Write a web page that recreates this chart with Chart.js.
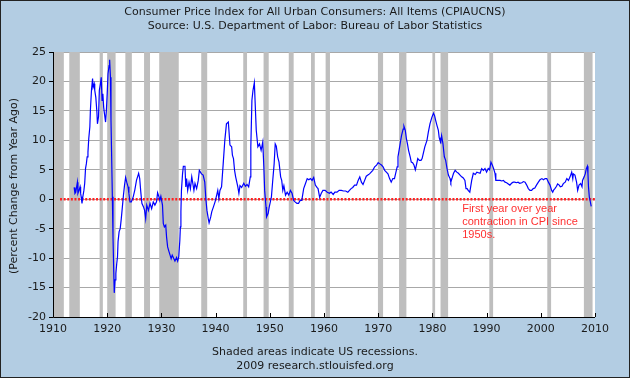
<!DOCTYPE html>
<html>
<head>
<meta charset="utf-8">
<title>CPI - Percent Change from Year Ago</title>
<script src="https://cdn.jsdelivr.net/npm/chart.js@4.4.1/dist/chart.umd.min.js"></script>
<style>
    html, body { margin: 0; padding: 0; background: #b3cde3; }
    #wrap { width: 630px; height: 378px; }
</style>
</head>
<body>
<div id="wrap"><canvas id="cpiChart" width="630" height="378"></canvas></div>
<script>
// ========================================
// DATA
// ========================================
const years = [
    1913.9, 1914.05, 1914.2, 1914.5, 1914.6, 1914.8, 1915.0, 1915.1, 1915.2, 1915.35,
    1915.5, 1915.7, 1915.85, 1916.0, 1916.15, 1916.3, 1916.45, 1916.6, 1916.8, 1916.9,
    1917.1, 1917.3, 1917.4, 1917.6, 1917.7, 1917.9, 1918.1, 1918.2, 1918.4, 1918.55,
    1918.75, 1918.9, 1919.05, 1919.2, 1919.35, 1919.5, 1919.7, 1919.85, 1920.0, 1920.15,
    1920.35, 1920.45, 1920.6, 1920.7, 1920.8, 1920.95, 1921.07, 1921.2, 1921.3, 1921.45,
    1921.6, 1921.75, 1921.9, 1922.0, 1922.2, 1922.4, 1922.6, 1922.8, 1923.0, 1923.2,
    1923.4, 1923.6, 1923.85, 1924.0, 1924.2, 1924.45, 1924.8, 1925.1, 1925.4, 1925.6,
    1925.8, 1926.0, 1926.2, 1926.4, 1926.7, 1926.9, 1927.1, 1927.3, 1927.6, 1927.9,
    1928.2, 1928.5, 1928.8, 1929.1, 1929.3, 1929.55, 1929.7, 1929.9, 1930.2, 1930.35,
    1930.55, 1930.8, 1930.95, 1931.15, 1931.4, 1931.6, 1931.8, 1932.0, 1932.3, 1932.5,
    1932.8, 1933.0, 1933.2, 1933.4, 1933.5, 1933.6, 1933.7, 1933.9, 1934.05, 1934.35,
    1934.5, 1934.65, 1934.85, 1935.1, 1935.35, 1935.6, 1935.8, 1936.0, 1936.2, 1936.5,
    1936.8, 1937.0, 1937.2, 1937.4, 1937.7, 1938.0, 1938.2, 1938.4, 1938.65, 1938.8,
    1939.1, 1939.3, 1939.6, 1939.9, 1940.2, 1940.4, 1940.6, 1940.8, 1941.1, 1941.4,
    1941.7, 1942.0, 1942.35, 1942.65, 1942.96, 1943.1, 1943.3, 1943.5, 1943.7, 1944.1,
    1944.3, 1944.5, 1944.8, 1945.2, 1945.5, 1945.8, 1946.1, 1946.4, 1946.5, 1946.7,
    1946.9, 1947.15, 1947.3, 1947.5, 1947.8, 1948.1, 1948.4, 1948.7, 1948.9, 1949.05,
    1949.3, 1949.4, 1949.7, 1949.9, 1950.3, 1950.5, 1950.8, 1951.0, 1951.2, 1951.45,
    1951.7, 1952.0, 1952.2, 1952.4, 1952.6, 1952.9, 1953.2, 1953.5, 1953.8, 1954.1,
    1954.4, 1954.7, 1955.0, 1955.3, 1955.6, 1955.9, 1956.25, 1956.6, 1956.9, 1957.2,
    1957.5, 1957.8, 1958.1, 1958.4, 1958.7, 1958.9, 1959.2, 1959.5, 1959.8, 1960.2,
    1960.6, 1961.0, 1961.3, 1961.7, 1962.0, 1962.4, 1962.8, 1963.2, 1963.6, 1964.0,
    1964.4, 1964.7, 1965.0, 1965.3, 1965.65, 1966.0, 1966.3, 1966.6, 1966.9, 1967.2,
    1967.5, 1967.8, 1968.1, 1968.4, 1968.7, 1969.0, 1969.35, 1969.7, 1970.0, 1970.3,
    1970.6, 1970.9, 1971.2, 1971.5, 1971.8, 1972.1, 1972.4, 1972.7, 1973.0, 1973.2,
    1973.5, 1973.65, 1973.85, 1974.1, 1974.3, 1974.6, 1974.75, 1975.0, 1975.2, 1975.4,
    1975.6, 1975.9, 1976.1, 1976.35, 1976.6, 1976.85, 1977.1, 1977.3, 1977.6, 1977.9,
    1978.1, 1978.3, 1978.6, 1979.0, 1979.25, 1979.55, 1979.9, 1980.2, 1980.4, 1980.6,
    1980.85, 1981.1, 1981.25, 1981.4, 1981.55, 1981.7, 1981.95, 1982.2, 1982.45, 1982.7,
    1982.95, 1983.25, 1983.4, 1983.7, 1983.9, 1984.2, 1984.5, 1984.8, 1985.1, 1985.4,
    1985.7, 1986.0, 1986.2, 1986.4, 1986.6, 1986.9, 1987.25, 1987.55, 1987.9, 1988.2,
    1988.5, 1988.8, 1989.1, 1989.4, 1989.7, 1990.0, 1990.3, 1990.55, 1990.8, 1991.05,
    1991.3, 1991.55, 1991.7, 1992.0, 1992.5, 1992.8, 1993.1, 1993.4, 1993.7, 1994.0,
    1994.3, 1994.6, 1994.9, 1995.2, 1995.5, 1995.8, 1996.1, 1996.5, 1996.8, 1997.1,
    1997.4, 1997.7, 1998.0, 1998.3, 1998.6, 1998.9, 1999.2, 1999.55, 1999.85, 2000.2,
    2000.5, 2000.8, 2001.1, 2001.4, 2001.7, 2002.0, 2002.2, 2002.4, 2002.6, 2002.9,
    2003.1, 2003.4, 2003.6, 2003.9, 2004.15, 2004.5, 2004.8, 2005.1, 2005.4, 2005.7,
    2005.9, 2006.0, 2006.3, 2006.6, 2006.8, 2007.05, 2007.35, 2007.6, 2007.7, 2008.0,
    2008.2, 2008.4, 2008.6, 2008.7, 2008.8, 2008.95, 2009.15, 2009.3
];

const cpiChange = [
    2.0, 1.0, 1.2, 2.9, 1.0, 1.5, 2.1, 1.0, 0.4, -0.7,
    0.4, 1.5, 2.7, 5.2, 6.0, 7.2, 8.0, 10.3, 12.3, 15.1,
    18.5, 20.5, 19.0, 19.6, 18.5, 17.3, 14.8, 12.8, 14.0, 18.5,
    19.6, 20.7, 16.8, 17.9, 15.6, 14.5, 13.1, 15.1, 17.9, 21.3,
    22.7, 23.7, 20.7, 13.4, 8.3, 0.4, -6.4, -12.0, -15.9, -13.7,
    -12.6, -11.0, -9.8, -7.2, -5.5, -5.0, -3.3, -1.3, 0.7, 2.4,
    3.7, 2.9, 2.1, 1.0, -0.45, -0.45, 0.4, 1.6, 3.2, 3.8,
    4.4, 3.5, 1.2, -0.7, -1.3, -1.9, -3.3, -1.0, -1.9, -0.7,
    -1.6, -0.45, -1.0, -0.45, 1.1, 0.4, -0.2, 0.5, -1.0, -4.1,
    -4.7, -4.4, -6.4, -8.1, -8.9, -9.5, -10.1, -9.5, -10.1, -10.5,
    -9.9, -10.5, -9.8, -7.0, -4.7, -2.1, 1.5, 4.3, 5.6, 5.6,
    2.1, 3.5, 1.5, 2.9, 1.8, 3.8, 2.7, 1.5, 2.7, 1.8,
    3.2, 4.9, 4.6, 4.3, 4.1, 2.9, 0.1, -1.9, -3.3, -4.0,
    -3.0, -2.1, -1.3, -0.45, 0.7, 1.5, 0.1, 1.5, 2.1, 6.0,
    10.0, 12.8, 13.1, 9.2, 8.9, 7.5, 6.9, 4.9, 3.8, 2.1,
    1.0, 2.3, 2.0, 2.7, 2.2, 2.5, 2.1, 3.8, 8.9, 16.8,
    18.5, 19.8, 16.3, 11.7, 8.9, 9.4, 8.3, 9.7, 5.5, 1.5,
    -1.3, -3.0, -2.4, -1.3, 0.4, 2.7, 6.0, 9.4, 9.0, 7.2,
    6.3, 3.8, 3.2, 1.5, 2.3, 0.7, 1.2, 0.7, 1.5, 1.0,
    -0.2, -0.5, -0.7, -0.7, -0.2, -0.2, 1.8, 2.7, 3.5, 3.3,
    3.5, 3.2, 3.7, 2.4, 2.0, 1.8, 0.3, 1.0, 1.5, 1.5,
    1.2, 1.0, 1.2, 0.8, 1.2, 1.2, 1.5, 1.5, 1.4, 1.4,
    1.2, 1.5, 1.8, 2.0, 2.4, 2.4, 3.2, 3.8, 2.9, 2.5,
    3.2, 3.9, 4.1, 4.3, 4.6, 4.9, 5.5, 5.8, 6.2, 6.0,
    5.8, 5.5, 4.9, 4.6, 4.3, 3.5, 2.9, 3.5, 3.5, 4.3,
    5.5, 7.2, 8.3, 9.7, 10.8, 11.9, 12.4, 11.7, 10.3, 9.4,
    8.3, 7.2, 6.3, 6.2, 5.8, 5.0, 6.0, 6.9, 6.6, 6.6,
    6.9, 7.7, 8.9, 10.0, 11.4, 12.8, 13.9, 14.6, 14.2, 13.4,
    12.5, 11.7, 10.5, 10.0, 9.7, 10.8, 9.4, 7.2, 6.6, 5.2,
    4.1, 3.5, 2.9, 3.8, 4.4, 4.9, 4.6, 4.4, 4.1, 3.8,
    3.6, 3.2, 1.8, 1.8, 1.5, 1.2, 3.2, 4.4, 4.2, 4.6,
    4.5, 4.4, 5.2, 4.9, 5.2, 4.6, 5.2, 5.0, 6.3, 5.8,
    5.2, 4.4, 3.2, 3.2, 3.2, 3.1, 3.2, 2.9, 2.8, 2.6,
    2.4, 2.7, 2.9, 2.9, 2.8, 2.9, 2.7, 2.8, 3.0, 2.9,
    2.4, 1.8, 1.5, 1.5, 1.8, 1.9, 2.4, 2.9, 3.3, 3.5,
    3.3, 3.5, 3.5, 2.9, 2.4, 1.5, 1.2, 1.6, 1.8, 2.2,
    2.6, 2.4, 2.1, 2.2, 2.65, 2.9, 3.5, 3.2, 3.8, 4.6,
    3.5, 4.3, 4.1, 2.9, 1.5, 2.4, 2.65, 2.1, 3.2, 3.8,
    4.3, 5.2, 5.6, 4.3, 2.1, 0.4, -0.5, -1.2
];

// NBER recessions (decimal years)
const recessionStart = [1910.0, 1913.0, 1918.6, 1920.0, 1923.35, 1926.8, 1929.6, 1937.35, 1945.1, 1948.85,
                        1953.5, 1957.6, 1960.3, 1969.95, 1973.85, 1980.0, 1981.5, 1990.5, 2001.2, 2007.95];
const recessionEnd   = [1912.0, 1914.95, 1919.2, 1921.55, 1924.55, 1927.9, 1933.2, 1938.45, 1945.8, 1949.8,
                        1954.4, 1958.3, 1961.1, 1970.9, 1975.2, 1980.5, 1982.9, 1991.2, 2001.9, 2009.55];

const xTicks = [1910, 1920, 1930, 1940, 1950, 1960, 1970, 1980, 1990, 2000, 2010];
const yTicks = [-20, -15, -10, -5, 0, 5, 10, 15, 20, 25];

const titleLines = [
    'Consumer Price Index for All Urban Consumers: All Items (CPIAUCNS)',
    'Source: U.S. Department of Labor: Bureau of Labor Statistics'
];
const footerLines = ['Shaded areas indicate US recessions.', '2009 research.stlouisfed.org'];
const yAxisTitle = '(Percent Change from Year Ago)';
const noteLines = ['First year over year', 'contraction in CPI since', '1950s.'];

// ========================================
// HELPERS
// ========================================
const FONT = '"DejaVu Sans", Verdana, sans-serif';
const BG = '#b3cde3';

const cpiPoints = years.map((y, i) => ({ x: y, y: cpiChange[i] }));
const zeroLine = [{ x: 1911.3, y: 0 }, { x: 2010, y: 0 }];

// background, recession bars, frame, texts
const fredPlugin = {
    id: 'fredStyle',
    beforeDraw(chart) {
        const { ctx, chartArea: a } = chart;
        ctx.save();
        ctx.fillStyle = BG;
        ctx.fillRect(0, 0, chart.width, chart.height);
        ctx.fillStyle = '#ffffff';
        ctx.fillRect(a.left, a.top, a.right - a.left, a.bottom - a.top);
        ctx.restore();
    },
    beforeDatasetsDraw(chart) {
        const { ctx, chartArea: a, scales } = chart;
        ctx.save();
        ctx.fillStyle = '#bebebe';
        recessionStart.forEach((s, i) => {
            const x1 = scales.x.getPixelForValue(s);
            const x2 = scales.x.getPixelForValue(recessionEnd[i]);
            ctx.fillRect(x1, a.top, x2 - x1, a.bottom - a.top);
        });
        ctx.restore();
    },
    afterDatasetsDraw(chart) {
        const { ctx, chartArea: a, scales } = chart;
        ctx.save();
        // axis lines
        ctx.strokeStyle = '#000';
        ctx.lineWidth = 1;
        ctx.beginPath();
        ctx.moveTo(Math.round(a.left) + 0.5, a.top);
        ctx.lineTo(Math.round(a.left) + 0.5, Math.round(a.bottom) + 0.5);
        ctx.lineTo(a.right, Math.round(a.bottom) + 0.5);
        ctx.stroke();
        // x ticks point up into the plot
        ctx.beginPath();
        xTicks.forEach(t => {
            const x = Math.round(scales.x.getPixelForValue(t)) + 0.5;
            ctx.moveTo(x, a.bottom);
            ctx.lineTo(x, a.bottom - 4);
        });
        ctx.stroke();

        // note
        ctx.fillStyle = '#ff3030';
        ctx.font = '11px "Liberation Sans", Arial, sans-serif';
        ctx.textAlign = 'left';
        ctx.textBaseline = 'middle';
        const nx = scales.x.getPixelForValue(1985.5);
        const ny = scales.y.getPixelForValue(-1.7);
        noteLines.forEach((line, i) => ctx.fillText(line, nx, ny + i * 13));
        ctx.restore();
    },
    afterDraw(chart) {
        const { ctx } = chart;
        ctx.save();
        ctx.fillStyle = '#1a1a1a';
        ctx.font = '11px ' + FONT;
        ctx.textAlign = 'center';
        ctx.textBaseline = 'middle';
        ctx.fillText(titleLines[0], 315, 12);
        ctx.fillText(titleLines[1], 315, 26);
        ctx.fillText(footerLines[0], 315, 352);
        ctx.fillText(footerLines[1], 315, 366);

        ctx.translate(14, 186);
        ctx.rotate(-Math.PI / 2);
        ctx.fillText(yAxisTitle, 0, 0);
        ctx.restore();

        // outer border
        ctx.save();
        ctx.strokeStyle = '#222';
        ctx.lineWidth = 1;
        ctx.strokeRect(0.5, 0.5, chart.width - 1, chart.height - 1);
        ctx.restore();
    }
};

// ========================================
// CHART
// ========================================
new Chart(document.getElementById('cpiChart'), {
    type: 'line',
    data: {
        datasets: [
            {
                label: 'CPI',
                data: cpiPoints,
                borderColor: '#0000ff',
                borderWidth: 1.2,
                pointRadius: 0,
                tension: 0,
                fill: false
            },
            {
                label: 'Zero',
                data: zeroLine,
                borderColor: '#ff2020',
                borderWidth: 2.5,
                borderDash: [2, 1.6],
                pointRadius: 0,
                fill: false
            }
        ]
    },
    options: {
        responsive: false,
        animation: false,
        devicePixelRatio: 1,
        layout: { padding: { top: 52, right: 35, left: 0, bottom: 0 } },
        plugins: {
            legend: { display: false },
            tooltip: { enabled: false }
        },
        scales: {
            x: {
                type: 'linear',
                min: 1910,
                max: 2010,
                afterBuildTicks: scale => { scale.ticks = xTicks.map(v => ({ value: v })); },
                afterFit: scale => { scale.height = 61; },
                ticks: {
                    autoSkip: false,
                    maxRotation: 0,
                    padding: 6,
                    color: '#1a1a1a',
                    font: { family: FONT, size: 11 },
                    callback: v => String(v)
                },
                grid: { drawOnChartArea: false, drawTicks: false },
                border: { display: false }
            },
            y: {
                min: -20,
                max: 25,
                afterBuildTicks: scale => { scale.ticks = yTicks.map(v => ({ value: v })); },
                afterFit: scale => { scale.width = 53; },
                ticks: {
                    padding: 3,
                    color: '#1a1a1a',
                    font: { family: FONT, size: 11 }
                },
                grid: { color: '#a8a8a8', tickLength: 4, tickColor: '#000' },
                border: { display: false }
            }
        }
    },
    plugins: [fredPlugin]
});
</script>
</body>
</html>
